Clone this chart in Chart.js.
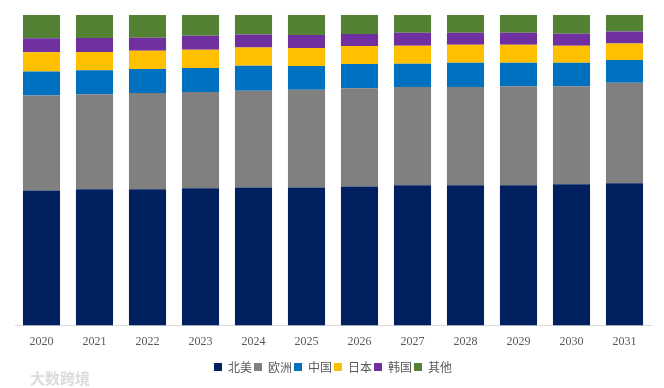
<!DOCTYPE html>
<html>
<head>
<meta charset="utf-8">
<script src="https://cdn.jsdelivr.net/npm/chart.js@4"></script>
<style>
    body { margin: 0; background: #fff; }
    #wrap { position: relative; width: 664px; height: 388px; }
    #mark { position: absolute; left: 30px; top: 367px; font: bold 15px "Noto Sans CJK SC"; color: rgba(190, 190, 190, 0.55); }
</style>
</head>
<body>
<div id="wrap">
    <canvas id="resultsChart" width="664" height="388"></canvas>
    <div id="mark">大数跨境</div>
</div>
<script>
const years = ['2020', '2021', '2022', '2023', '2024', '2025', '2026', '2027', '2028', '2029', '2030', '2031'];
const northAmerica = [43.5, 43.9, 43.9, 44.2, 44.5, 44.5, 44.8, 45.2, 45.2, 45.2, 45.5, 45.8];
const europe = [30.6, 30.6, 31.0, 31.0, 31.1, 31.4, 31.6, 31.6, 31.6, 31.9, 31.6, 32.4];
const china = [7.7, 7.7, 7.7, 7.7, 8.1, 7.7, 7.8, 7.5, 7.8, 7.5, 7.5, 7.3];
const japan = [6.2, 5.9, 5.9, 5.9, 5.8, 5.8, 5.8, 5.8, 5.8, 5.8, 5.5, 5.3];
const korea = [4.5, 4.5, 4.2, 4.5, 4.2, 4.2, 3.9, 4.2, 3.9, 3.9, 3.9, 3.9];
const others = [7.5, 7.4, 7.3, 6.7, 6.3, 6.4, 6.1, 5.7, 5.7, 5.7, 6.0, 5.3];

const series = [
    { label: '北美', data: northAmerica, color: '#002060' },
    { label: '欧洲', data: europe, color: '#808080' },
    { label: '中国', data: china, color: '#0070C0' },
    { label: '日本', data: japan, color: '#FFC000' },
    { label: '韩国', data: korea, color: '#7030A0' },
    { label: '其他', data: others, color: '#548235' }
];

var ctx = document.getElementById('resultsChart').getContext('2d');
new Chart(ctx, {
    type: 'bar',
    data: {
        labels: years,
        datasets: series.map(s => ({
            label: s.label,
            data: s.data,
            backgroundColor: s.color,
            borderWidth: 0,
            categoryPercentage: 1,
            barPercentage: 0.7
        }))
    },
    options: {
        responsive: false,
        animation: false,
        layout: { padding: { left: 15, right: 13, top: 15, bottom: 5 } },
        scales: {
            x: {
                stacked: true,
                grid: { display: false },
                border: { display: true, color: '#d9d9d9' },
                ticks: { color: '#595959', font: { family: 'Liberation Serif', size: 12 }, padding: 1 },
                // extra room between the year labels and the legend
                afterFit: (scale) => { scale.height += 9; }
            },
            y: {
                stacked: true,
                display: false,
                min: 0,
                max: 100
            }
        },
        plugins: {
            tooltip: { enabled: false },
            legend: {
                position: 'bottom',
                labels: {
                    boxWidth: 8,
                    boxHeight: 8,
                    padding: 2,
                    color: '#595959',
                    font: { family: 'Noto Sans CJK SC', size: 12 }
                }
            }
        }
    }
});
</script>
</body>
</html>
